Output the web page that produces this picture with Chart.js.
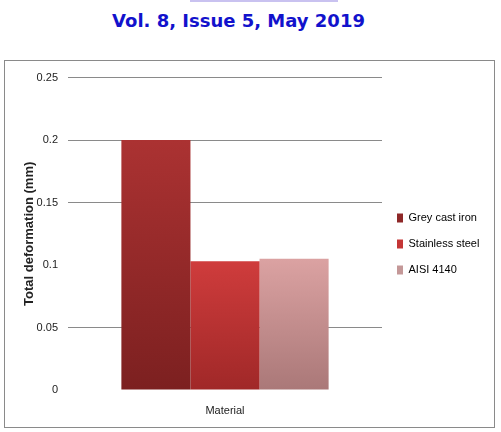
<!DOCTYPE html>
<html>
<head>
<meta charset="utf-8">
<script src="https://cdn.jsdelivr.net/npm/chart.js@4"></script>
<style>
  body { margin: 0; background: #fff; width: 501px; height: 432px; position: relative; overflow: hidden; }
  #link { position: absolute; left: 190px; top: 0; width: 148px; height: 2px; background: #c9c2f0; }
  #head { position: absolute; left: 0; width: 477px; top: 10px; text-align: center;
          font: bold 18px "DejaVu Sans", Verdana, sans-serif; color: #1212cc; }
  #box { position: absolute; left: 4px; top: 60px; width: 489px; height: 366px; border: 1px solid #8a8a8a; }
  #chart { display: block; }
</style>
</head>
<body>
<div id="link"></div>
<div id="head">Vol. 8, Issue 5, May 2019</div>
<div id="box"><canvas id="chart" width="489" height="366"></canvas></div>
<script>
var categories = ['Material'];
var materials = ['Grey cast iron', 'Stainless steel', 'AISI 4140'];
var deformation = [0.2, 0.103, 0.105];
var yTicks = [0, 0.05, 0.1, 0.15, 0.2, 0.25];

var topColors = ['#ab3232', '#cf3c3c', '#dba2a2'];
var bottomColors = ['#7c2020', '#a02828', '#aa7878'];
var keyColors = ['#8e2828', '#c43636', '#c49898'];

var canvas = document.getElementById('chart');
var context = canvas.getContext('2d');

function barFill(i) {
    return function(ctx) {
        var chart = ctx.chart;
        if (!chart.chartArea) return keyColors[i];
        var y = chart.scales.y;
        var g = chart.ctx.createLinearGradient(0, y.getPixelForValue(deformation[i]), 0, y.getPixelForValue(0));
        g.addColorStop(0, topColors[i]);
        g.addColorStop(1, bottomColors[i]);
        return g;
    };
}

var datasets = [];
for (var i = 0; i < materials.length; i++) {
    datasets.push({
        label: materials[i],
        data: [deformation[i]],
        backgroundColor: barFill(i),
        borderWidth: 0,
        barPercentage: 1,
        categoryPercentage: 0.66
    });
}

var font = { family: '"Liberation Sans Narrow", "Liberation Sans", Arial, sans-serif', size: 11 };

var chart = new Chart(context, {
    type: 'bar',
    data: { labels: categories, datasets: datasets },
    options: {
        responsive: false,
        animation: false,
        layout: { padding: { top: 10, right: 5, left: 0, bottom: 10 } },
        plugins: {
            tooltip: { enabled: false },
            legend: {
                position: 'right',
                maxWidth: 107,
                labels: {
                    font: font,
                    color: '#222',
                    boxWidth: 6,
                    boxHeight: 9,
                    padding: 15,
                    generateLabels: function(c) {
                        return materials.map(function(m, k) {
                            return { text: m, fillStyle: keyColors[k], strokeStyle: keyColors[k], lineWidth: 0, datasetIndex: k };
                        });
                    }
                }
            }
        },
        scales: {
            x: {
                grid: { display: false, drawTicks: false },
                border: { display: false },
                ticks: { font: font, color: '#222', padding: 14 },
                afterFit: function(s) { s.height = 27; }
            },
            y: {
                min: 0,
                max: 0.25,
                afterBuildTicks: function(s) { s.ticks = yTicks.map(function(v) { return { value: v }; }); },
                grid: {
                    color: function(ctx) {
                        var v = ctx.tick ? ctx.tick.value : 0;
                        return (v === 0 || v === 0.1) ? 'rgba(0,0,0,0)' : '#8a8a8a';
                    },
                    drawTicks: false
                },
                border: { display: false },
                ticks: {
                    font: font,
                    color: '#222',
                    padding: 10,
                    callback: function(v) { return String(v); }
                },
                title: {
                    display: true,
                    text: 'Total deformation (mm)',
                    font: { family: '"Liberation Sans", Arial, sans-serif', size: 13, weight: 'bold' },
                    color: '#222',
                    padding: { top: 17, bottom: 0 }
                },
                afterFit: function(s) { s.width = 63; }
            }
        }
    }
});
</script>
</body>
</html>
